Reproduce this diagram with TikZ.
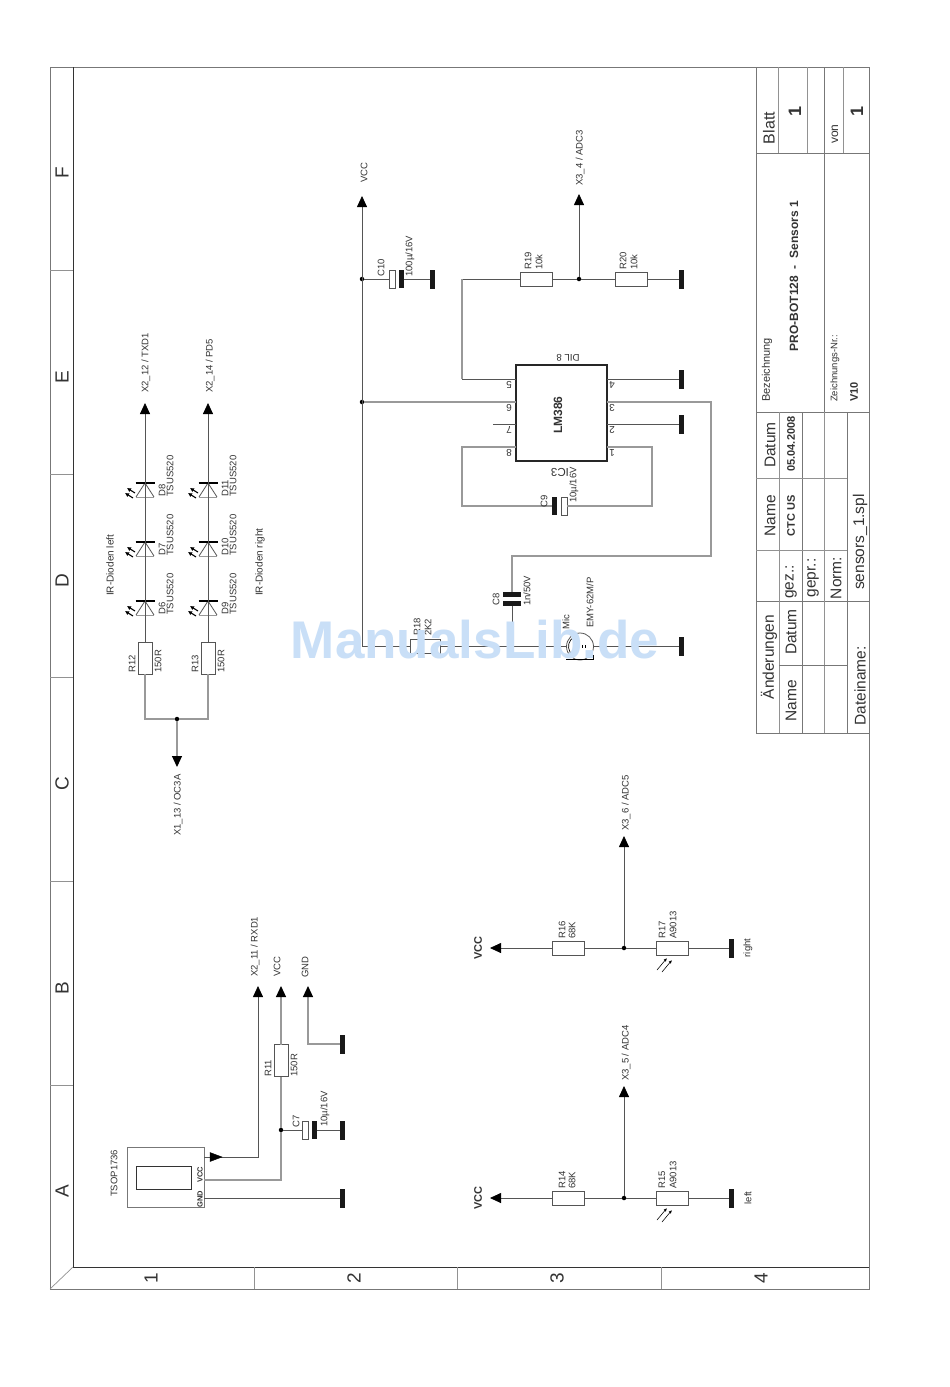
\documentclass[tikz,border=0pt]{standalone}
\usepackage{fontspec}
\setmainfont{Liberation Sans}
\usetikzlibrary{arrows.meta}
\definecolor{ink}{HTML}{333333}
\definecolor{wirec}{HTML}{555555}
\definecolor{wirel}{HTML}{999999}
\definecolor{framec}{HTML}{777777}
\definecolor{wm}{HTML}{C9DFF7}
\tikzset{
 wire/.style={draw=wirec,line width=.8pt},
 wirelt/.style={draw=wirel,line width=1.1pt},
 frameln/.style={draw=framec,line width=1pt},
 thin frame/.style={draw=framec!80,line width=.7pt},
 thick frame/.style={draw=ink,line width=1pt},
 arrowed/.style={-{Triangle[length=11pt,width=10pt,color=black,fill=black]}},
 lbl/.style={rotate=90,anchor=west,font=\fontsize{9.5}{10}\selectfont,text=ink,inner sep=0pt},
 clbl/.style={rotate=90,anchor=center,font=\fontsize{9.5}{10}\selectfont,text=ink,inner sep=0pt},
 pinlbl/.style={rotate=180,font=\fontsize{10}{11}\selectfont,text=ink,inner sep=0pt},
 grid/.style={rotate=90,font=\fontsize{19}{20}\selectfont,text=ink,inner sep=0pt},
 tb/.style={rotate=90,font=\fontsize{15.5}{16}\selectfont,text=ink,inner sep=0pt},
 tbn/.style={rotate=90,font=\fontsize{18}{19}\bfseries\selectfont,text=ink,inner sep=0pt},
 tbb/.style={rotate=90,font=\fontsize{11}{12}\bfseries\selectfont,text=ink,inner sep=0pt},
 tbs/.style={rotate=90,font=\fontsize{11}{12}\selectfont,text=ink,inner sep=0pt},
 res h/.style={draw=wirec,fill=white,line width=.9pt,minimum width=32pt,minimum height=14pt,inner sep=0pt,outer sep=0pt},
 res v/.style={draw=wirec,fill=white,line width=.9pt,minimum width=14pt,minimum height=32pt,inner sep=0pt,outer sep=0pt},
 gndbar/.style={fill=black!90,draw=none,minimum width=5pt,minimum height=19pt,inner sep=0pt,outer sep=0pt},
 jn/.style={circle,fill=black,draw=none,minimum size=4.5pt,inner sep=0pt,outer sep=0pt},
 capw/.style={draw=wirec,fill=white,line width=.8pt,minimum width=6pt,minimum height=18pt,inner sep=0pt,outer sep=0pt},
 capb/.style={fill=black!90,draw=none,minimum width=5pt,minimum height=18pt,inner sep=0pt,outer sep=0pt},
 capbh/.style={fill=black!90,draw=none,minimum width=18pt,minimum height=5pt,inner sep=0pt,outer sep=0pt},
}
\newcommand{\ledd}[4]{% x, y bar, diode name, label
 \node[inner sep=0pt,outer sep=0pt,minimum size=0pt] (#3a) at (#1,#2) {};
 \node[inner sep=0pt,outer sep=0pt,minimum size=0pt] (#3b) at (#1,#2+14) {};
 \draw[line width=.8pt,draw=wirec] (#1,#2) -- ({#1-9},#2+14);
 \draw[line width=.8pt,draw=wirec] (#1,#2) -- ({#1+9},#2+14);
 \draw[line width=1pt,draw=wirel] ({#1-9},#2+14) -- ({#1+9},#2+14);
 \draw[line width=1.3pt,draw=black] ({#1-9.5},#2) -- ({#1+9.5},#2);
 \draw[-{Latex[length=4pt,width=4.5pt]},line width=1.1pt,draw=black] ({#1-10},#2+10) -- ({#1-18},#2+5);
 \draw[-{Latex[length=4pt,width=4.5pt]},line width=1.1pt,draw=black] ({#1-12},#2+15) -- ({#1-20},#2+10);
 \node[lbl] at ({#1+17},#2+14) {#4};
 \node[lbl] at ({#1+25},#2+14) {TSUS520};
}
\newcommand{\pharrows}[2]{%
 \draw[-{Latex[length=3.5pt,width=3pt]},line width=.6pt,draw=black] (#1,#2+22) -- ({#1+10},#2+10);
 \draw[-{Latex[length=3.5pt,width=3pt]},line width=.6pt,draw=black] ({#1+5},#2+24) -- ({#1+15},#2+12);
}
\begin{document}
\begin{tikzpicture}[x=1pt,y=-1pt]
\useasboundingbox (0,0) rectangle (950,1387);
\fill[white] (0,0) rectangle (950,1387);
% frame
\draw[frameln] (50,67) rectangle (869,1289);
\draw[thick frame] (73,67) -- (73,1267) -- (869,1267);
\draw[thin frame] (50,1289) -- (73,1267);
\foreach \y in {1085,881,677,474,270} \draw[thin frame] (50,\y) -- (73,\y);
\foreach \x in {254,457,661} \draw[thin frame] (\x,1267) -- (\x,1289);
\foreach \y/\t in {1191/A,988/B,784/C,581/D,377/E,173/F} \node[grid] (col\t) at (62,\y) {\t};
\foreach \x/\t in {151/1,354/2,557/3,761/4} \node[grid] (row\t) at (\x,1278) {\t};
% title block
\draw[frameln] (756,67) -- (756,733) -- (869,733);
\draw[frameln] (756,153) -- (869,153);
\draw[frameln] (756,412) -- (869,412);
\draw[frameln] (756,601) -- (869,601);
\draw[frameln] (824,67) -- (824,412);
\draw[thin frame] (778,67) -- (778,153);
\draw[thin frame] (807,67) -- (807,153);
\draw[thin frame] (843,67) -- (843,153);
\draw[thin frame] (779,412) -- (779,733);
\draw[frameln] (802,412) -- (802,733);
\draw[thin frame] (824,412) -- (824,733);
\draw[frameln] (847,412) -- (847,733);
\draw[thin frame] (756,478) -- (847,478);
\draw[thin frame] (756,550) -- (847,550);
\draw[frameln] (779,665) -- (847,665);
\node[tb,font=\fontsize{16}{17}\selectfont] (tBlatt) at (769,128) {Blatt};
\node[tbn] (tOne) at (795,111) {1};
\node[tbs,font=\fontsize{12}{13}\selectfont] (tvon) at (835,134) {von};
\node[tbn] (tOneb) at (857,111) {1};
\node[tbs,anchor=west] (tBez) at (767,402) {Bezeichnung};
\node[tbb,anchor=center,font=\fontsize{12}{13}\bfseries\selectfont] (tPro) at (794,276) {PRO-BOT128 \ - \ Sensors 1};
\node[tbs,anchor=west,font=\fontsize{9.5}{10}\selectfont] (tZei) at (835,402) {Zeichnungs-Nr.:};
\node[tbb,anchor=west] (tV) at (854,402) {V10};
\node[tb] (tDatum) at (770,445) {Datum};
\node[tb] (tName) at (770,516) {Name};
\node[tbb] (tDate) at (791,444) {05.04.2008};
\node[tbb] (tCTC) at (791,516) {CTC US};
\node[tb] (tgez) at (791,582) {gez.:};
\node[tb] (tgepr) at (813,578) {gepr.:};
\node[tb] (tNorm) at (836,578) {Norm:};
\node[tb] (tsens) at (860,542) {sensors\_1.spl};
\node[tb] (tAend) at (769,657) {Änderungen};
\node[tb] (tDat2) at (791,632) {Datum};
\node[tb] (tNm2) at (791,701) {Name};
\node[tb] (tDn) at (860,686) {Dateiname:};

% VCC rail and power section
\coordinate (vccTip) at (362,196);
\coordinate (railEnd) at (362,646);
\node[jn] (j1) at (362,279) {};
\node[jn] (j2) at (362,402) {};
\node[capw] (c10a) at (392,279) {};
\node[capb] (c10b) at (401,279) {};
\node[gndbar] (g10) at (432,279) {};
\draw[wire,arrowed] (railEnd) -- (vccTip);
\draw[wire] (j1) -- (c10a);
\draw[wire] (c10b) -- (g10);
\node[lbl] (vccl) at (364,183) {VCC};
\node[lbl] (c10l) at (381,277) {C10};
\node[lbl] (c10v) at (410,277) {100µ/16V};

\node[res h] (r19) at (536,279) {};
\node[res h] (r20) at (631,279) {};
\node[jn] (j3) at (579,279) {};
\node[gndbar] (g20) at (681,279) {};
\coordinate (x34) at (579,194);
\coordinate (r19w) at (462,279);
\draw[wire] (r19) -- (j3);
\draw[wire] (j3) -- (r20);
\draw[wire] (r20) -- (g20);
\draw[wire,arrowed] (j3) -- (x34);
\node[lbl] (r19l) at (528,270) {R19};
\node[lbl] (r19v) at (539,270) {10k};
\node[lbl] (r20l) at (623,270) {R20};
\node[lbl] (r20v) at (634,270) {10k};
\node[lbl] (x34l) at (580,186) {X3\_4 / ADC3};

% LM386
\node[draw=black!85,line width=1.5pt,minimum width=91pt,minimum height=96pt,inner sep=0pt,outer sep=0pt,fill=white] (ic) at (561.5,413) {};
\node[rotate=90,font=\fontsize{12}{13}\bfseries\selectfont,text=ink,inner sep=0pt] (icn) at (558,415) {LM386};
\node[rotate=180,font=\fontsize{9.7}{11}\selectfont,text=ink,inner sep=0pt] (ict) at (568,358) {DIL 8};
\node[rotate=180,font=\fontsize{11.5}{12}\selectfont,text=ink,inner sep=0pt] (icr) at (560,472) {IC3};
\coordinate (p5) at (516,379); \coordinate (p6) at (516,402); \coordinate (p7) at (516,424); \coordinate (p8) at (516,447);
\coordinate (p4) at (607,379); \coordinate (p3) at (607,402); \coordinate (p2) at (607,424); \coordinate (p1) at (607,447);
\foreach \n/\x/\y in {5/509/385,6/509/408,7/509/430,8/509/453,4/612/385,3/612/408,2/612/430,1/612/453}
  \node[pinlbl] (pl\n) at (\x,\y) {\n};
\coordinate (w5) at (462,379);
\coordinate (w7) at (493,424);
\node[gndbar] (g4) at (681,379) {};
\node[gndbar] (g2) at (681,424) {};
\draw[wire] (r19) -- (r19w);
\draw[wirelt] (r19w) -- (w5);
\draw[wire] (w5) -- (p5);
\draw[wirelt] (j2) -- (p6);
\draw[wire] (w7) -- (p7);
\draw[wire] (p4) -- (g4);
\draw[wire] (p2) -- (g2);
% C9 loop
\node[capb] (c9b) at (554.5,506) {};
\node[capw] (c9a) at (564,506) {};
\draw[wirelt] (p8) -- (462,447) -- (462,506) -- (c9b);
\draw[wirelt] (p1) -- (652,447) -- (652,506) -- (c9a);
\node[lbl] (c9l) at (544,508) {C9};
\node[lbl] (c9v) at (574,503) {10µ/16V};
% C8 and mic line
\node[capbh] (c8a) at (512,594.5) {};
\node[capbh] (c8b) at (512,603.5) {};
\node[jn,minimum size=2.5pt] (j4) at (510,646) {};
\node[res h,minimum width=30pt] (r18) at (425,646) {};
\node[gndbar] (g18) at (681,646) {};
\draw[wirelt] (p3) -- (711,402) -- (711,556) -- (512,556) -- (c8a);
\draw[wire] (c8b) -- (512,646);
\draw[wire] (railEnd) -- (r18);
\draw[wire] (r18) -- (j4);
\draw[wire] (j4) -- (g18);
\node[lbl] (c8l) at (496,606) {C8};
\node[lbl] (c8v) at (527,606) {1n/50V};
\node[lbl] (r18l) at (417,636) {R18};
\node[lbl] (r18v) at (428,636) {2K2};
% mic
\node[circle,draw=wirec,fill=white,line width=.8pt,minimum size=27pt,inner sep=0pt,outer sep=0pt] (mic) at (580,646.5) {};
\draw[line width=1pt,draw=black] (566,659.5) -- (593,659.5) -- (593,655);
\draw[line width=.7pt,draw=black] (582,645) -- (582,648);
\draw[line width=.7pt,draw=black] (585,645) -- (585,648);
\draw[line width=.7pt,draw=black] (574,637) arc[start angle=120,end angle=240,radius=11pt];
\node[lbl] (micl) at (566,630) {Mic};
\node[lbl] (emy) at (590,628) {EMY-62M/P};

% IR diodes left
\coordinate (t1) at (145,403);
\coordinate (t2) at (208,403);
\ledd{145}{483}{d8}{D8}
\ledd{145}{542}{d7}{D7}
\ledd{145}{601}{d6}{D6}
\ledd{208}{483}{d11}{D11}
\ledd{208}{542}{d10}{D10}
\ledd{208}{601}{d9}{D9}
\node[res v] (r12) at (145,658) {};
\node[res v] (r13) at (208,658) {};
\node[jn] (j5) at (177,719) {};
\coordinate (x113) at (177,767);
\draw[wire,arrowed] (r12) -- (d6b) -- (d6a) -- (d7b) -- (d7a) -- (d8b) -- (d8a) -- (t1);
\draw[wire,arrowed] (r13) -- (d9b) -- (d9a) -- (d10b) -- (d10a) -- (d11b) -- (d11a) -- (t2);
\draw[wirelt] (r12) -- (145,719) -- (j5);
\draw[wirelt] (j5) -- (208,719) -- (r13);
\draw[wirelt,arrowed] (j5) -- (x113);
\node[lbl] (r12l) at (132,673) {R12};
\node[lbl] (r12v) at (158,673) {150R};
\node[lbl] (r13l) at (195,673) {R13};
\node[lbl] (r13v) at (221,673) {150R};
\node[lbl] (l1) at (146,393) {X2\_12 / TXD1};
\node[lbl] (l2) at (210,393) {X2\_14 / PD5};
\node[lbl] (l3) at (178,836) {X1\_13 / OC3A};
\node[lbl,font=\fontsize{10}{11}\selectfont] (l4) at (110,596) {IR-Dioden left};
\node[lbl,font=\fontsize{10}{11}\selectfont] (l5) at (260,596) {IR-Dioden right};

% TSOP
\node[draw=framec,line width=1pt,minimum width=77pt,minimum height=60pt,inner sep=0pt,outer sep=0pt] (tsop) at (165.5,1177) {};
\node[draw=black!80,line width=.8pt,minimum width=55pt,minimum height=23pt,inner sep=0pt,outer sep=0pt] (tsi) at (163.5,1177.5) {};
\node[rotate=90,font=\fontsize{7.5}{8}\bfseries\selectfont,text=ink,inner sep=0pt] (tv) at (200,1175) {VCC};
\node[rotate=90,font=\fontsize{7.5}{8}\bfseries\selectfont,text=ink,inner sep=0pt] (tg) at (200,1199) {GND};
\node[lbl] (tsl) at (114,1197) {TSOP1736};
\coordinate (to) at (204,1157);
\coordinate (tv1) at (204,1180);
\coordinate (tg1) at (204,1198);
\coordinate (a1) at (258,986);
\coordinate (a2) at (281,986);
\coordinate (a3) at (308,986);
\node[gndbar] (gG) at (342,1044) {};
\node[gndbar] (gT) at (342,1198) {};
\node[gndbar] (gC) at (342,1130) {};
\node[res v] (r11) at (281,1060.5) {};
\node[jn] (j6) at (281,1130) {};
\node[capw] (c7a) at (305.5,1130) {};
\node[capb] (c7b) at (314.5,1130) {};
\draw[wire,arrowed] (to) -- (258,1157) -- (a1);
\draw[fill=black,draw=black,line width=.4pt] (210,1152.5) -- (222,1157) -- (210,1161.5) -- cycle;
\draw[wirelt] (tv1) -- (281,1180) -- (j6);
\draw[wirelt] (j6) -- (r11);
\draw[wirelt,arrowed] (r11) -- (a2);
\draw[wirelt,arrowed] (gG) -- (308,1044) -- (a3);
\draw[wire] (tg1) -- (gT);
\draw[wire] (j6) -- (c7a);
\draw[wire] (c7b) -- (gC);
\node[lbl] (l6) at (255,977) {X2\_11 / RXD1};
\node[lbl] (l7) at (277,977) {VCC};
\node[lbl] (l8) at (305,978) {GND};
\node[lbl] (r11l) at (268,1077) {R11};
\node[lbl] (r11v) at (294,1077) {150R};
\node[lbl] (c7l) at (296,1128) {C7};
\node[lbl] (c7v) at (325,1127) {10µ/16V};

% Light sensors
\foreach \yy/\ra/\va/\rb/\vb/\adc/\side in {1198/R14/68K/R15/A9013/{X3\_5 / ADC4}/left,948/R16/68K/R17/A9013/{X3\_6 / ADC5}/right}{
  \coordinate (vt) at (490,\yy);
  \coordinate (gt) at (624,\yy-112);
  \node[res h] (ra) at (568,\yy) {};
  \node[res h] (rb) at (672,\yy) {};
  \node[jn] (jj) at (624,\yy) {};
  \node[gndbar] (gg) at (731.5,\yy) {};
  \draw[wire,arrowed] (ra) -- (vt);
  \draw[wire] (ra) -- (jj);
  \draw[wire] (jj) -- (rb);
  \draw[wire] (rb) -- (gg);
  \draw[wire,arrowed] (jj) -- (gt);
  \node[rotate=90,font=\fontsize{11}{12}\bfseries\selectfont,text=ink,inner sep=0pt] at (478,\yy) {VCC};
  \node[lbl] at (562,\yy-9) {\ra};
  \node[lbl] at (572,\yy-9) {\va};
  \node[lbl] at (662,\yy-9) {\rb};
  \node[lbl] at (673,\yy-9) {\vb};
  \node[lbl] at (626,\yy-117) {\adc};
  \node[clbl] at (748,\yy) {\side};
  \pharrows{657}{\yy}
}
% watermark
\node[font=\fontsize{53}{56}\bfseries\selectfont,text=wm,inner sep=0pt] (wmk) at (475,640) {ManualsLib.de};
\end{tikzpicture}
\end{document}
